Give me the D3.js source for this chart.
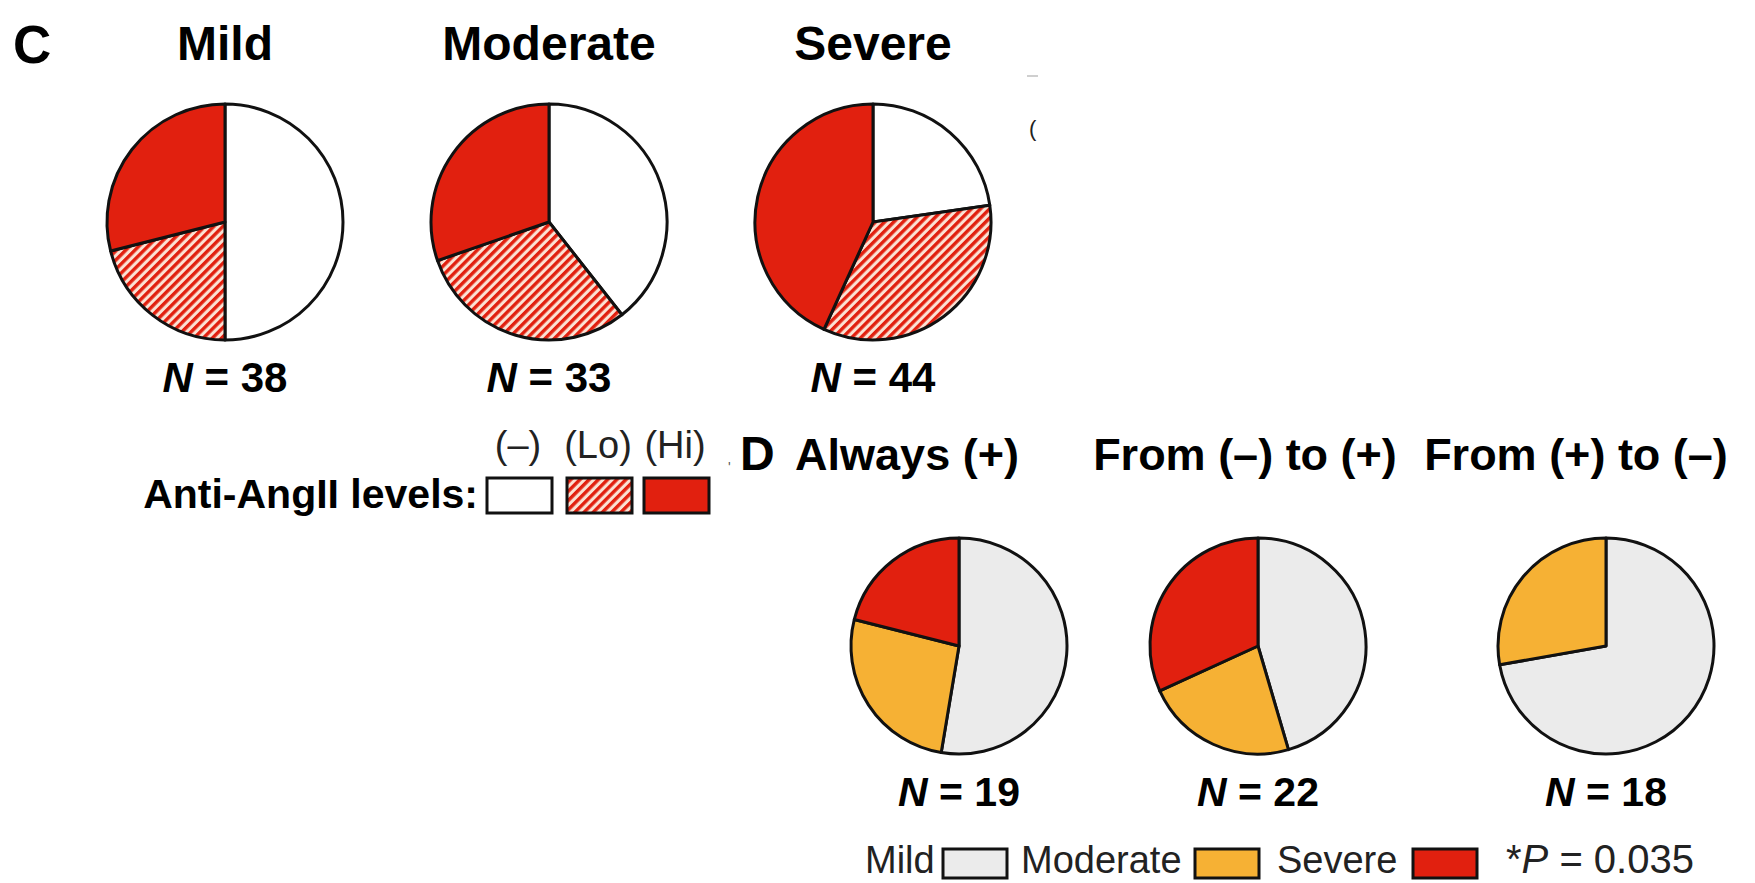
<!DOCTYPE html>
<html>
<head>
<meta charset="utf-8">
<script src="https://cdn.jsdelivr.net/npm/d3@7"></script>
<style>
  html, body { margin: 0; padding: 0; background: #fff; }
  svg { display: block; font-family: "Liberation Sans", Arial, Helvetica, sans-serif; }
</style>
</head>
<body>
<svg id="chart" width="1755" height="883"></svg>
<script>
// ---------- DATA ----------
const panelCGroups = ["Mild", "Moderate", "Severe"];
const panelCCategories = ["(–)", "(Lo)", "(Hi)"];
const panelCCounts = [
  [19, 8, 11],   // Mild
  [13, 10, 10],  // Moderate
  [10, 15, 19]   // Severe
];
const panelCN = [38, 33, 44];

const panelDGroups = ["Always (+)", "From (–) to (+)", "From (+) to (–)"];
const panelDCategories = ["Mild", "Moderate", "Severe"];
const panelDCounts = [
  [10, 5, 4],   // Always (+)
  [10, 5, 7],   // From (–) to (+)
  [13, 5, 0]    // From (+) to (–)
];
const panelDN = [19, 22, 18];
const pValueText = "0.035";

// ---------- STYLE / LAYOUT ----------
const RED = "#e1200f";
const ORANGE = "#f6b134";
const LIGHT = "#ebebeb";

const svg = d3.select("#chart");
const defs = svg.append("defs");

const pat = defs.append("pattern")
  .attr("id", "hatch")
  .attr("patternUnits", "userSpaceOnUse")
  .attr("width", 6.5).attr("height", 10)
  .attr("patternTransform", "rotate(45)");
pat.append("rect").attr("width", 6.5).attr("height", 10).attr("fill", "#fbe2d4");
pat.append("rect").attr("width", 3.4).attr("height", 10).attr("fill", RED);

const colorC = d3.scaleOrdinal().domain(panelCCategories).range(["#ffffff", "url(#hatch)", RED]);
const colorD = d3.scaleOrdinal().domain(panelDCategories).range([LIGHT, ORANGE, RED]);

const pie = d3.pie().sort(null).value(d => d.value);

// ---------- PANEL C ----------
const cX = d3.scalePoint().domain(panelCGroups).range([225, 873]);
const cY = 222, cR = 118;
const arcC = d3.arc().innerRadius(0).outerRadius(cR);

svg.append("text").attr("x", 13).attr("y", 63)
  .attr("font-size", 53).attr("font-weight", "bold").text("C");

panelCGroups.forEach((g, i) => {
  const cx = cX(g);
  svg.append("text").attr("x", cx).attr("y", 60)
    .attr("text-anchor", "middle").attr("font-size", 48).attr("font-weight", "bold")
    .text(g);

  const data = panelCCategories.map((c, j) => ({ cat: c, value: panelCCounts[i][j] }));
  const gp = svg.append("g").attr("transform", `translate(${cx},${cY})`);
  gp.selectAll("path").data(pie(data).filter(d => d.data.value > 0)).join("path")
    .attr("d", arcC)
    .attr("fill", d => colorC(d.data.cat))
    .attr("stroke", "#111").attr("stroke-width", 3).attr("stroke-linejoin", "round");

  const t = svg.append("text").attr("x", cx).attr("y", 392)
    .attr("text-anchor", "middle").attr("font-size", 42).attr("font-weight", "bold");
  t.append("tspan").attr("font-style", "italic").text("N");
  t.append("tspan").text(" = " + panelCN[i]);
});

// legend C
svg.append("text").attr("x", 478).attr("y", 508)
  .attr("text-anchor", "end").attr("font-size", 41).attr("font-weight", "bold")
  .text("Anti-AngII levels:");
const legCX = d3.scaleOrdinal().domain(panelCCategories).range([487, 567, 644]);
panelCCategories.forEach(c => {
  svg.append("rect").attr("x", legCX(c)).attr("y", 478)
    .attr("width", 65).attr("height", 35)
    .attr("fill", colorC(c)).attr("stroke", "#111").attr("stroke-width", 3);
  svg.append("text").attr("x", legCX(c) + 31).attr("y", 458)
    .attr("text-anchor", "middle").attr("font-size", 38).attr("fill", "#222")
    .text(c);
});

// small cropping artifacts
svg.append("line").attr("x1", 1027).attr("x2", 1038).attr("y1", 76).attr("y2", 76)
  .attr("stroke", "#cfcfcf").attr("stroke-width", 2);
svg.append("text").attr("x", 1029).attr("y", 136).attr("font-size", 22).attr("fill", "#222").text("(");
svg.append("text").attr("x", 728).attr("y", 472).attr("font-size", 14).attr("fill", "#555").text("'");

// ---------- PANEL D ----------
const dTitleX = d3.scaleOrdinal().domain(panelDGroups).range([907, 1245, 1576]);
const dPieX = d3.scaleOrdinal().domain(panelDGroups).range([959, 1258, 1606]);
const dY = 646, dR = 108;
const arcD = d3.arc().innerRadius(0).outerRadius(dR);

svg.append("text").attr("x", 740).attr("y", 470)
  .attr("font-size", 48).attr("font-weight", "bold").text("D");

panelDGroups.forEach((g, i) => {
  svg.append("text").attr("x", dTitleX(g)).attr("y", 470)
    .attr("text-anchor", "middle").attr("font-size", 45).attr("font-weight", "bold")
    .text(g);
  const cx = dPieX(g);
  const data = panelDCategories.map((c, j) => ({ cat: c, value: panelDCounts[i][j] }));
  const gp = svg.append("g").attr("transform", `translate(${cx},${dY})`);
  gp.selectAll("path").data(pie(data).filter(d => d.data.value > 0)).join("path")
    .attr("d", arcD)
    .attr("fill", d => colorD(d.data.cat))
    .attr("stroke", "#111").attr("stroke-width", 3).attr("stroke-linejoin", "round");

  const t = svg.append("text").attr("x", cx).attr("y", 806)
    .attr("text-anchor", "middle").attr("font-size", 41).attr("font-weight", "bold");
  t.append("tspan").attr("font-style", "italic").text("N");
  t.append("tspan").text(" = " + panelDN[i]);
});

// legend D
const legDTextX = d3.scaleOrdinal().domain(panelDCategories).range([865, 1021, 1277]);
const legDBoxX = d3.scaleOrdinal().domain(panelDCategories).range([943, 1195, 1413]);
panelDCategories.forEach(c => {
  svg.append("text").attr("x", legDTextX(c)).attr("y", 873)
    .attr("font-size", 38).attr("fill", "#222").text(c);
  svg.append("rect").attr("x", legDBoxX(c)).attr("y", 849)
    .attr("width", 64).attr("height", 29)
    .attr("fill", colorD(c)).attr("stroke", "#111").attr("stroke-width", 3);
});
const pt = svg.append("text").attr("x", 1506).attr("y", 873)
  .attr("font-size", 40).attr("fill", "#222");
pt.append("tspan").text("*");
pt.append("tspan").attr("font-style", "italic").text("P");
pt.append("tspan").text(" = " + pValueText);
</script>
</body>
</html>
